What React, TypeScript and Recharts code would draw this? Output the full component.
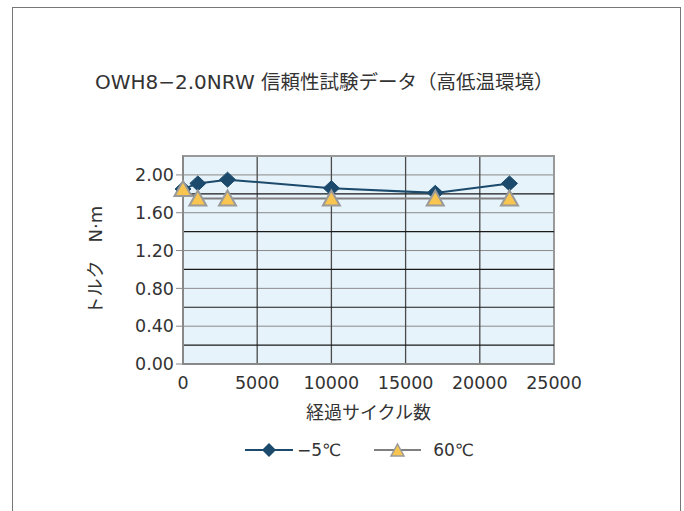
import React from 'react';
import { LineChart, Line, XAxis, YAxis, CartesianGrid, ReferenceLine, ReferenceArea, Legend } from 'recharts';

const cycles = [0, 1000, 3000, 10000, 17000, 22000];
const torqueMinus5 = [1.85, 1.91, 1.95, 1.86, 1.81, 1.91];
const torque60 = [1.85, 1.75, 1.75, 1.75, 1.75, 1.75];
const xTicks = [0, 5000, 10000, 15000, 20000, 25000];
const yTicks = [0, 0.4, 0.8, 1.2, 1.6, 2.0];
const yMinorLines = [0.2, 0.6, 1.0, 1.4, 1.8];
const seriesNames = ['−5℃', '60℃'];
const titleLatin = 'OWH8−2.0NRW ';
const titleCjk = '信頼性試験データ（高低温環境）';
const xLabel = '経過サイクル数';
const yLabel = 'トルク　N·m';

const data = cycles.map((c, i) => ({ cycle: c, m5: torqueMinus5[i], p60: torque60[i] }));

const FONT = "'DejaVu Sans', 'Noto Sans CJK JP', sans-serif";
const CJK = "'Noto Sans CJK JP', sans-serif";
const TEXT = '#333';
const NAVY = '#1b4a6c';
const GOLD = '#f8c550';
const TRI_STROKE = '#9a9a9a';

const Diamond = (props: any) => {
  const { cx, cy } = props;
  if (cx == null || cy == null) return null;
  return <path d={`M${cx},${cy - 7.5} L${cx + 8},${cy} L${cx},${cy + 7.5} L${cx - 8},${cy} Z`} fill={NAVY} stroke={NAVY} strokeWidth={1} />;
};

const Triangle = (props: any) => {
  const { cx, cy } = props;
  if (cx == null || cy == null) return null;
  return <path d={`M${cx},${cy - 8} L${cx + 8.5},${cy + 7} L${cx - 8.5},${cy + 7} Z`} fill={GOLD} stroke={TRI_STROKE} strokeWidth={2} strokeLinejoin="miter" />;
};

const LegendContent = () => (
  <div style={{ display: 'flex', alignItems: 'center', fontFamily: FONT, fontSize: 17, color: TEXT }}>
    <svg width={50} height={18} style={{ display: 'block' }}>
      <line x1={0} y1={9} x2={48} y2={9} stroke={NAVY} strokeWidth={2} />
      <path d="M24,2 L31,9 L24,16 L17,9 Z" fill={NAVY} />
    </svg>
    <span style={{ marginLeft: 2 }}>{seriesNames[0]}</span>
    <svg width={50} height={18} style={{ display: 'block', marginLeft: 33 }}>
      <line x1={0} y1={9} x2={47} y2={9} stroke="#808080" strokeWidth={2} />
      <path d="M23.5,3 L30,15 L17,15 Z" fill={GOLD} stroke={TRI_STROKE} strokeWidth={1.5} />
    </svg>
    <span style={{ marginLeft: 9 }}>{seriesNames[1]}</span>
  </div>
);

export default function App() {
  return (
    <div style={{ position: 'absolute', left: 0, top: 0, width: 684, height: 511, overflow: 'hidden', background: '#fff' }}>
      <div style={{ position: 'absolute', left: 12, top: 7, width: 669, height: 600, border: '1.5px solid #777', boxSizing: 'border-box' }} />
      <div style={{ position: 'absolute', left: 95, top: 66, whiteSpace: 'nowrap', fontFamily: FONT, color: TEXT, lineHeight: '30px' }}>
        <span style={{ fontSize: 20 }}>{titleLatin}</span>
        <span style={{ fontSize: 19.5, fontFamily: CJK }}>{titleCjk}</span>
      </div>
      <div style={{ position: 'absolute', left: 0, top: 0 }}>
        <LineChart width={684} height={511} data={data} margin={{ top: 156, right: 130, bottom: 117, left: 70 }}>
          <CartesianGrid fill="#e6f3fa" fillOpacity={1} stroke="#8a8a8a" strokeWidth={1} horizontal={true} vertical={false} />
          <CartesianGrid stroke="#4a4a4a" strokeWidth={1.3} horizontal={false} vertical={true} fill="none" />
          {yMinorLines.map((v) => (
            <ReferenceLine key={v} y={v} stroke="#1a1a1a" strokeWidth={1.2} ifOverflow="visible" />
          ))}
          <ReferenceArea x1={0} x2={25000} y1={0} y2={2.2} fill="none" stroke="#999" strokeWidth={2} ifOverflow="visible" />
          <XAxis
            type="number"
            dataKey="cycle"
            domain={[0, 25000]}
            ticks={xTicks}
            height={30}
            axisLine={{ stroke: '#888', strokeWidth: 2 }}
            tickLine={false}
            tickMargin={7}
            tick={{ fill: TEXT, fontSize: 17.5, fontFamily: FONT }}
            label={{
              content: (p: any) => {
                const vb = p.viewBox || {};
                return (
                  <text x={vb.x + vb.width / 2} y={411} textAnchor="middle" dominantBaseline="central" fontSize={18} fill={TEXT} fontFamily={CJK}>
                    {xLabel}
                  </text>
                );
              },
            }}
          />
          <YAxis
            type="number"
            domain={[0, 2.2]}
            ticks={yTicks}
            width={113}
            axisLine={{ stroke: '#888', strokeWidth: 2 }}
            tickLine={{ stroke: '#888' }}
            tickSize={7}
            tickMargin={2}
            tickFormatter={(v: number) => v.toFixed(2)}
            tick={{ fill: TEXT, fontSize: 17.5, fontFamily: FONT }}
            label={{
              content: (p: any) => {
                const vb = p.viewBox || {};
                const cx = vb.x + 25;
                const cy = vb.y + vb.height / 2;
                return (
                  <text x={cx} y={cy} transform={`rotate(-90, ${cx}, ${cy})`} textAnchor="middle" dominantBaseline="central" fontSize={18} fill={TEXT} fontFamily={FONT}>
                    {yLabel}
                  </text>
                );
              },
            }}
          />
          <Line dataKey="m5" name={seriesNames[0]} stroke={NAVY} strokeWidth={2} dot={<Diamond />} isAnimationActive={false} />
          <Line dataKey="p60" name={seriesNames[1]} stroke="#808080" strokeWidth={2} dot={<Triangle />} isAnimationActive={false} />
          <Legend
            layout="horizontal"
            verticalAlign="middle"
            align="center"
            content={<LegendContent />}
            wrapperStyle={{ position: 'absolute', top: 440, left: 245, width: 260 }}
          />
        </LineChart>
      </div>
    </div>
  );
}
